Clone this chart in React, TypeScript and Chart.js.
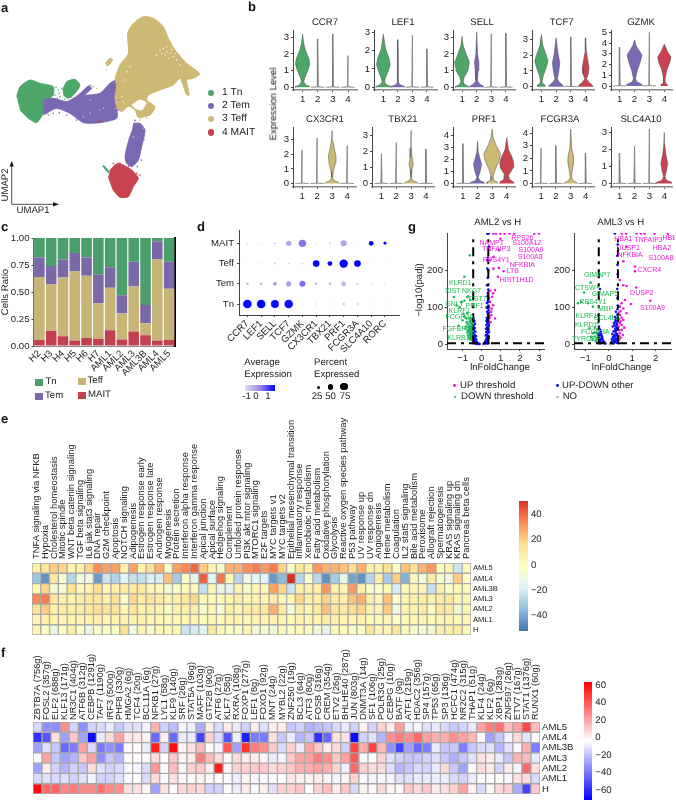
import React, { useEffect, useRef } from "react";
import { Chart, registerables } from "chart.js";

Chart.register(...registerables);
const FONT = '"Liberation Sans", Arial, sans-serif';
Chart.defaults.font.family = FONT;
Chart.defaults.font.size = 9.5;
Chart.defaults.color = "#222";
Chart.defaults.plugins.legend.display = false;
Chart.defaults.plugins.tooltip.enabled = false;

/* ---------- palette ---------- */
const GREEN = "#4CA768";
const PURPLE = "#7B68B5";
const TAN = "#CDB973";
const RED = "#C8434F";
const CLUSTER_COLORS = [GREEN, PURPLE, TAN, RED];

/* ---------- panel a: UMAP outlines and stray cells (UMAP units) ---------- */
const teffOutline = [[345,235],[360,195],[385,160],[383,100],[400,70],[430,50],[460,55],[490,80],[505,115],[525,150],[560,190],[600,222],[580,235],[560,240],[568,285],[560,285],[540,235],[520,255],[480,270],[445,285],[440,300],[465,320],[450,345],[415,352],[405,330],[385,318],[365,335],[350,320],[345,290],[350,260],[345,235]];
const teffIslet = [[316,190],[328,176],[338,178],[330,192],[322,198]];
const teffHole = [[395,315],[420,300],[438,308],[425,330],[405,325]];
const teffCells = [[280,260],[290,265],[270,300],[300,330],[320,195],[320,210],[270,340],[345,325],[430,385],[415,525],[400,410],[310,325],[250,350],[275,258],[420,360],[440,355],[405,360]];
const teffGaps = [[480,150],[490,145],[500,155],[510,160],[495,165],[520,170],[505,175],[470,165],[485,160],[515,150],[530,180],[525,160],[540,195],[500,140],[380,215],[375,240],[390,200],[365,290],[370,305],[455,290]];
const tnOutline = [[50,290],[60,260],[90,240],[120,250],[160,260],[160,285],[145,300],[130,340],[110,368],[85,355],[60,330]];
const tnIslet = [[188,270],[200,245],[225,238],[240,255],[225,280],[205,295],[190,285]];
const tnSliver = [[310,495],[328,515],[325,518],[308,498]];
const tnCells = [[165,285],[175,270],[180,290],[150,300],[140,320],[185,265],[172,295],[160,300],[135,335],[145,345],[168,262],[178,280],[152,310],[195,298]];
const temOutline = [[130,300],[160,295],[200,305],[235,285],[265,258],[275,265],[255,285],[300,280],[330,250],[350,240],[345,290],[350,320],[350,355],[300,368],[250,368],[210,340],[170,325],[130,345]];
const temLower = [[400,370],[420,370],[435,390],[425,440],[415,480],[395,500],[380,490],[375,470],[385,425],[395,395]];
const temCells = [[120,310],[140,340],[130,330],[160,340],[200,345],[230,360],[270,255],[260,275],[240,290],[225,300],[355,300],[350,345],[345,355],[355,330],[405,362],[365,500],[375,505],[412,500],[425,480],[215,290],[190,330],[178,338],[262,262],[432,420]];
const maitOutline = [[330,510],[355,490],[395,510],[415,535],[400,560],[385,590],[360,592],[340,570],[325,530]];
const maitCells = [[345,495],[360,490],[385,500],[410,520],[300,362],[305,365],[380,480],[405,530],[340,490],[420,525],[295,360]];
const umapLegend = ["1 Tn", "2 Tem", "3 Teff", "4 MAIT"];

/* ---------- panel b: violins. A profile is [level, half width]; other clusters hold only a top value ---------- */
const CCR7_1 = [[0,.47],[.05,.47],[.15,.2],[.35,.08],[.55,.13],[.9,.3],[1.1,.38],[1.4,.47],[1.7,.42],[2.2,.2],[2.6,.08],[3.2,0]];
const LEF1_1 = [[0,.5],[.05,.5],[.15,.2],[.3,.08],[.5,.14],[.9,.35],[1.25,.47],[1.6,.38],[2.1,.15],[2.9,0]];
const LEF1_2 = [[0,.47],[.05,.45],[.15,.12],[.3,.03],[1,.03],[1.4,.03],[2.6,0]];
const SELL_1 = [[0,.45],[.05,.45],[.18,.15],[.35,.08],[.6,.15],[1,.4],[1.5,.5],[2,.28],[2.5,.08],[3.05,0]];
const SELL_2 = [[0,.5],[.08,.45],[.2,.2],[.4,.06],[1,.1],[1.5,.15],[2,.06],[3.3,0]];
const TCF7_1 = [[0,.25],[.1,.25],[.2,.1],[.4,.06],[.7,.13],[1,.25],[1.6,.45],[2.1,.3],[2.6,.1],[3.3,0]];
const TCF7_2 = [[0,.5],[.1,.45],[.3,.2],[.5,.08],[.9,.17],[1.5,.25],[2.1,.13],[3.1,0]];
const TCF7_4 = [[0,.5],[.1,.45],[.3,.2],[.5,.06],[.8,.18],[1.2,.23],[1.7,.14],[2.3,.04],[3.1,0]];
const GZMK_2 = [[0,.5],[.15,.5],[.4,.15],[.7,.07],[1.5,.2],[2.2,.38],[2.9,.5],[3.4,.27],[3.8,.1],[4.3,0]];
const GZMK_4 = [[0,.2],[.15,.2],[.3,.05],[.7,.06],[1.5,.17],[2.2,.37],[2.7,.45],[3.2,.22],[3.9,0]];
const CX3CR1_3 = [[0,.5],[.08,.45],[.2,.15],[.4,.03],[.8,.07],[1.4,.21],[1.9,.25],[2.4,.14],[2.9,.05],[3.6,0]];
const TBX21_3 = [[0,.5],[.08,.4],[.2,.1],[.4,.02],[.9,.07],[1.2,.14],[1.6,.07],[2.2,.02],[3.3,0]];
const PRF1_2 = [[0,.5],[.1,.45],[.25,.15],[.5,.05],[1,.18],[1.6,.28],[2.1,.16],[2.6,.05],[3.5,0]];
const PRF1_3 = [[0,.35],[.12,.35],[.3,.08],[.6,.08],[1.2,.22],[2,.52],[2.5,.56],[3.2,.26],[3.8,.07],[4.5,0]];
const PRF1_4 = [[0,.5],[.15,.45],[.35,.18],[.7,.13],[1.3,.44],[1.7,.48],[2.2,.36],[2.8,.12],[3.8,0]];
const FCGR3A_3 = [[0,.5],[.08,.4],[.25,.13],[.5,.04],[1,.09],[1.7,.2],[2.2,.18],[2.8,.06],[4.3,0]];
const SLC4A10_4 = [[0,.55],[.08,.5],[.2,.15],[.4,.05],[.8,.16],[1.2,.23],[1.7,.11],[2.3,.03],[3,0]];

const violinPanels = [
  { gene: "CCR7", top: 30, l: 292.7, r: 356.7, t1: 302.3, t4: 347.7, y0: 87.3, ppu: 16.67, ticks: [0,1,2,3], title: 325, v: [CCR7_1, 2.9, 3.2, 1.9] },
  { gene: "LEF1", top: 30, l: 374, r: 436.7, t1: 383.3, t4: 426.7, y0: 87.3, ppu: 18.3, ticks: [0,1,2,3], title: 403, v: [LEF1_1, LEF1_2, 2.85, 2.1] },
  { gene: "SELL", top: 30, l: 453.3, r: 515, t1: 462.3, t4: 506, y0: 87.3, ppu: 16.67, ticks: [0,1,2,3], title: 482, v: [SELL_1, SELL_2, 3.2, 3.25] },
  { gene: "TCF7", top: 30, l: 531.7, r: 593.3, t1: 541, t4: 585, y0: 86.7, ppu: 15.8, ticks: [0,1,2,3], title: 561.7, v: [TCF7_1, TCF7_2, 3.15, TCF7_4] },
  { gene: "GZMK", top: 30, l: 610.7, r: 671.7, t1: 619.3, t4: 664, y0: 86, ppu: 10.73, ticks: [0,1,2,3,4,5], title: 641, v: [3.6, GZMK_2, 5, GZMK_4] },
  { gene: "CX3CR1", top: 126.7, l: 293.3, r: 356, t1: 302.3, t4: 347.3, y0: 183.3, ppu: 14.67, ticks: [0,1,2,3], title: 325, v: [2.3, 3.1, CX3CR1_3, 2.6] },
  { gene: "TBX21", top: 126.7, l: 372.3, r: 434, t1: 381.7, t4: 426, y0: 183.3, ppu: 16.1, ticks: [0,1,2,3], title: 403, v: [1.85, 2.55, TBX21_3, 2.15] },
  { gene: "PRF1", top: 126.7, l: 452.7, r: 515, t1: 462.7, t4: 506.7, y0: 183.3, ppu: 12.1, ticks: [0,1,2,3,4], title: 484, v: [3.3, PRF1_2, PRF1_3, PRF1_4] },
  { gene: "FCGR3A", top: 126.7, l: 531.7, r: 593.3, t1: 540.7, t4: 585, y0: 183.3, ppu: 12.65, ticks: [0,1,2,3,4], title: 560, v: [2.8, 3, FCGR3A_3, 2.4] },
  { gene: "SLC4A10", top: 126.7, l: 610.7, r: 671.7, t1: 619.3, t4: 664, y0: 183.3, ppu: 17, ticks: [0,1,2,3], title: 641, v: [1.8, 2.2, 3.2, SLC4A10_4] },
];

/* ---------- panel c ---------- */
const ratioSamples = ["H2","H3","H4","H5","H6","H7","AML1","AML2","AML3","AML3B","AML4","AML5"];
const ratioMAIT = [.055,.14,.09,.05,.075,.065,.145,.06,.135,.10,.05,.055];
const ratioTeff = [.585,.43,.545,.64,.575,.33,.395,.24,.415,.11,.75,.475];
const ratioTem = [.18,.17,.165,.17,.17,.265,.19,.17,.23,.17,.17,.25];
const ratioTn = [.18,.26,.2,.14,.18,.34,.27,.53,.22,.62,.03,.22];
const ratioTicks = [0,.25,.5,.75,1];

/* ---------- panel d ---------- */
const dotGenes = ["CCR7","LEF1","SELL","TCF7","GZMK","CX3CR1","TBX21","PRF1","FCGR3A","SLC4A10","RORC"];
const dotCells = ["Tn","Tem","Teff","MAIT"];
const pctTn = [100,100,85,100,3,3,3,8,5,2,2];
const pctTem = [8,8,18,35,50,8,8,30,6,3,2];
const pctTeff = [1,2,4,3,4,60,30,95,60,1,1];
const pctMAIT = [2,2,5,40,75,2,4,50,2,30,12];
const avgTn = [1.5,1.5,1.4,1.4,-.7,-.7,-.7,-.6,-.6,-.7,-.7];
const avgTem = [-.3,-.2,.1,0,.5,-.3,-.3,-.4,-.5,-.7,-.7];
const avgTeff = [-.7,-.7,-.6,-.6,-.6,1.5,1.5,1.5,1.5,-.7,-.7];
const avgMAIT = [-.6,-.6,-.5,-.2,.4,-.7,-.5,-.2,-.7,1.5,1.5];

/* ---------- panel g ---------- */
const aml2Up = [[.62,300],[.75,300],[.98,300],[1.2,300],[1.46,300],[1.7,300],[2.75,300],[3,300],[.98,286],[.9,255],[.45,228],[.62,237],[.62,205],[.9,207],[1.15,198],[.85,183],[.7,147],[.6,138],[.55,129],[.45,115],[.6,106],[.5,88],[.5,79],[.7,70],[.45,145],[.52,96],[.42,72],[.46,60],[.4,100]];
const aml2Other = [[.3,300],[.33,300],[.36,300],[.38,265],[.33,235],[.32,228],[.3,205],[.35,200],[.32,180],[.28,160],[.35,148],[.33,138],[.3,130],[.36,125],[.32,118],[.28,112],[.35,105],[.31,98],[.37,92],[.29,88],[.33,82],[.36,76],[.27,72],[.31,68],[.34,62],[.29,58],[.37,55],[.25,52],[.32,48],[.28,44],[.35,40],[.3,36],[.24,33],[.33,30],[.27,26],[.36,22],[.3,20],[.26,16],[.34,14],[.22,11],[.29,9],[.2,7],[.32,6],[.25,4],[.35,3],[.18,4],[.28,2],[.38,115],[.26,100],[.38,85],[.25,64],[.38,50],[.23,42],[.39,34],[.22,24],[.38,18],[.16,3],[.12,2],[-.42,70],[-.38,62],[-.35,55],[-.42,50],[-.36,44],[-.4,38],[-.33,34],[-.44,30],[-.37,26],[-.3,22],[-.41,20],[-.35,16],[-.28,13],[-.4,11],[-.33,8],[-.25,7],[-.38,6],[-.3,4],[-.22,3],[-.36,3],[-.18,2],[-.27,1],[-.12,1]];
const aml2Down = [[-.47,60],[-.5,55],[-.55,50],[-.47,47],[-.52,42],[-.6,40],[-.48,37],[-.65,35],[-.55,33],[-.47,30],[-.5,26],[-.6,26],[-.7,24],[-.46,22],[-.55,20],[-.5,15],[-.63,50],[-.72,55],[-.78,60],[-.68,45],[-.85,42],[-.8,70],[-.9,75],[-.95,82],[-1,65],[-.75,85],[-.65,70],[-.56,65],[-1.2,50],[-1.15,100],[-.6,120],[-.45,110],[-.7,130],[-.62,241],[-.9,183],[-1.45,128],[-1.05,115],[-1.3,105],[-.75,128],[-.9,118],[-.58,58],[-.48,52],[-.7,38],[-.75,32],[-.62,30],[-.53,36],[-.57,24],[-.66,18],[-.49,44],[-.56,44],[-.8,48],[-.62,62],[-.52,70],[-.47,18],[-.53,12],[-.6,14]];
const aml2No = [[-.2,.5],[.1,.5],[.2,.5],[-.1,.3],[.05,.2]];
const aml3Up = [[.55,300],[.73,300],[1.19,300],[1.37,300],[1.53,300],[1.96,300],[2.52,300],[.76,264],[.62,225],[1.12,211],[1.12,198],[.47,174],[.62,160],[.76,158],[1.17,154],[1.77,118],[.69,120],[.55,111],[.94,109],[.47,102],[.62,97],[.76,84],[.47,79],[.62,66],[.47,57],[.55,39],[.47,30],[.5,90],[.55,72],[.42,48],[.6,25],[.44,68],[.5,62],[.44,38],[.5,18],[.44,22],[.66,45],[.43,86],[.45,12],[.55,52]];
const aml3Other = [[.26,300],[.38,270],[.36,240],[.37,215],[.38,190],[.36,150],[.37,125],[.38,105],[.37,95],[.3,88],[.36,80],[.26,74],[.33,70],[.37,65],[.29,60],[.35,56],[.24,52],[.3,48],[.36,45],[.27,42],[.33,38],[.2,35],[.3,32],[.36,28],[.25,26],[.32,24],[.18,20],[.28,18],[.35,15],[.22,13],[.3,10],[.15,8],[.26,6],[.34,4],[.2,3],[.28,66],[.22,58],[.17,48],[.26,36],[.15,28],[.22,22],[.13,14],[.34,52],[.32,42],[.1,5],[.24,10],[-.38,150],[-.42,48],[-.38,40],[-.34,34],[-.42,30],[-.36,26],[-.3,22],[-.41,18],[-.33,15],[-.26,12],[-.4,9],[-.3,6],[-.22,4],[-.36,3],[-.15,2],[-.4,24],[-.28,18],[-.36,12],[-.24,8],[-.19,6],[-.33,28]];
const aml3Down = [[-.78,167],[-1.06,140],[-.46,156],[-1.32,111],[-1.18,115],[-.68,102],[-.89,111],[-.46,79],[-.82,43],[-.68,30],[-.6,21],[-.53,12],[-.5,40],[-.6,45],[-.47,25],[-.55,8],[-.46,58],[-.7,12],[-.52,30],[-.48,16],[-.6,32],[-.75,20]];
const aml3No = [[-.15,.5],[.1,.5],[.2,.5],[.05,.3]];
const aml2UpNames: [string, number, number][] = [["RPS26",2.13,289],["NAMPT",.53,275],["S100A12",2.36,273],["TNFAIP3",.76,259],["S100A9",2.58,255],["S100A8",2.54,237],["RPS4Y1",.76,228],["NFKBIA",2.13,216],["LTB",1.63,198],["HIST1H1D",1.83,173]];
const aml2DownNames: [string, number, number][] = [["KLRD1",-1.12,167],["XIST",-1.51,145],["NKG7",-.53,145],["CST7",-.21,122],["GNLY",-1.42,108],["PRF1",-.36,104],["KLRF1",-1.15,90],["FCGR3A",-1.15,74],["FGFBP2",-1.33,40],["KLRB1",-1.21,18]];
const aml3UpNames: [string, number, number][] = [["HBA1",.62,284],["TNFAIP3",1.7,282],["HBB",2.6,289],["DUSP1",.83,262],["HBA2",2.27,262],["NFKBIA",.91,243],["S100A8",2.23,235],["CXCR4",1.73,200],["DUSP2",1.41,140],["S100A9",1.87,97]];
const aml3DownNames: [string, number, number][] = [["GIMAP7",-.5,187],["CTSW",-1.01,153],["GIMAP5",-.17,136],["RPS4Y1",-.68,115],["MBP",-.14,95],["KLRF1",-.96,76],["CCL4L2",-.1,70],["KLRD1",-.96,52],["FCGR3A",-.58,33],["TYROBP",-.96,14]];

/* ---------- panel e ---------- */
const hallmarkRows = ["AML5","AML4","AML3B","AML3","AML2","AML1","H"];
const hallmarkNames = ["TNFA signaling via NFKB","Hypoxia","Cholesterol homeostasis","Mitotic spindle","WNT beta catenin signaling","TGF beta signaling","IL6 jak stat3 signaling","DNA repair","G2M checkpoint","Apoptosis","NOTCH signaling","Adipogenesis","Estrogen response early","Estrogen response late","Androgen response","Myogenesis","Protein secretion","Interferon alpha response","Interferon gamma response","Apical junction","Apical surface","Hedgehog signaling","Complement","Unfolded protein response","PI3K akt mtor signaling","MTORC1 signaling","E2F targets","MYC targets v1","MYC targets v2","Epithelial mesenchymal transition","Inflammatory response","Xenobiotic metabolism","Fatty acid metabolism","Oxidative phosphorylation","Glycolysis","Reactive oxygen species pathway","P53 pathway","UV response up","UV response dn","Angiogenesis","Heme metabolism","Coagulation","IL2 stat5 signaling","Bile acid metabolism","Peroxisome","Allograft rejection","Spermatogenesis","KRAS signaling up","KRAS signaling dn","Pancreas beta cells"];
const hmAML5 = [8,12,20,18,5,8,18,32,28,28,6,28,6,15,25,-3,28,33,38,20,6,-3,25,25,32,35,30,35,18,-3,12,8,30,25,25,22,15,25,8,7,15,-2,22,15,25,30,2,5,-20,2];
const hmAML4 = [-30,-42,12,-5,-25,-6,-8,-40,-20,-25,-15,-22,-22,-17,-18,22,-28,-2,-12,40,-15,36,3,-25,-10,-15,-15,-40,-33,50,-25,-3,-24,-42,-28,-12,-38,-42,-25,8,-28,20,-35,4,-8,10,-3,-8,20,-1];
const hmAML3B = [4,18,-5,-5,15,3,6,16,4,8,10,12,10,4,3,-5,-3,3,3,-22,3,-12,-15,6,-4,4,3,28,18,-20,8,7,8,30,7,4,30,8,-2,-2,2,-18,4,4,4,-22,8,-2,3,3];
const hmAML3 = [33,35,11,7,5,10,12,12,8,15,-2,18,10,14,10,6,8,12,18,3,3,3,4,10,5,6,5,7,3,3,18,8,8,18,10,8,22,25,7,4,22,-2,6,7,10,6,10,12,4,4];
const hmAML2 = [14,20,8,10,8,10,12,15,14,15,4,12,6,8,6,-2,6,8,8,-3,4,-5,8,4,10,10,12,25,10,-8,10,6,10,22,12,10,16,18,5,5,20,-8,6,5,10,-2,12,10,-6,4];
const hmAML1 = [5,8,6,5,6,6,7,7,5,7,5,7,6,6,4,3,4,5,6,3,4,3,5,6,4,6,6,6,6,3,5,5,5,10,7,5,6,6,3,3,4,-1,3,4,5,3,5,5,3,4];
const hmH = [6,-1,-10,0,8,-2,-10,-3,-1,-1,15,-8,5,-2,4,2,3,-20,-18,-14,12,3,0,-2,4,-6,-4,-8,3,-3,3,2,-8,-12,2,2,-2,-1,14,4,4,12,3,-4,-6,-6,8,8,10,3];
const hallmarkValues = [hmAML5,hmAML4,hmAML3B,hmAML3,hmAML2,hmAML1,hmH];
const hallmarkStops = ["#4575B4","#91BFDB","#E0F3F8","#FFFFBF","#FEE090","#FC8D59","#D73027"];

/* ---------- panel f ---------- */
const tfRows = ["AML5","AML4","AML3B","AML3","AML2","AML1","H"];
const tfNames = ["ZBTB7A (756g)","FOSL2 (357g)","ELF2 (688g)","KLF13 (171g)","NR3C1 (404g)","ATF6B (312g)","CEBPB (1291g)","TAF7 (1190g)","IRF3 (500g)","PHF8 (330g)","HMGA2 (6g)","TCF4 (20g)","BCL11A (6g)","NFKB1 (27g)","LYL1 (58g)","KLF9 (140g)","SRF (26g)","STAT5A (96g)","MAFF (103g)","GTF2B (90g)","ATF6 (27g)","KLF7 (58g)","RXRA (108g)","FOXP1 (277g)","LEF1 (8g)","FOXO1 (92g)","MNT (24g)","MYBL2 (22g)","ZNF250 (19g)","BCL3 (64g)","ATF3 (80g)","FOSB (316g)","CREM (354g)","ETV2 (26g)","BHLHE40 (287g)","JUN (803g)","DNMT3A (14g)","SF1 (106g)","POLR3G (25g)","CEBPG (10g)","BATF (9g)","ATF1 (219g)","HDAC2 (356g)","SP4 (157g)","TP53 (65g)","SP3 (136g)","HCFC1 (474g)","NR2C2 (315g)","THAP1 (51g)","KLF4 (24g)","KLF2 (6g)","XBP1 (283g)","ZNF597 (26g)","ETV7 (167g)","STAT1 (1376g)","RUNX1 (60g)"];
const tfAML5 = [-10,-30,-30,30,-12,-30,-12,-10,-5,-15,-8,-8,-3,20,-12,-18,-3,-4,-22,5,-10,5,-5,-12,4,-8,5,5,-15,-12,-20,-18,-15,-10,-5,-12,3,-12,12,5,25,-3,-2,-8,-6,-10,-15,-12,-6,25,35,38,18,25,50,18];
const tfAML4 = [-55,-45,8,-25,15,-25,-65,-5,10,25,6,6,3,-40,5,-40,-5,-6,-50,12,-10,-45,-4,-60,-35,-35,8,-15,-5,-20,-15,-55,-40,8,8,-65,-12,-8,-20,30,35,30,40,25,22,22,30,25,20,1,-25,-15,-3,10,-7,1];
const tfAML3B = [-25,-8,-15,-40,-35,25,-10,-35,-30,-35,1,1,-5,60,-12,65,3,8,18,1,-3,45,-25,55,35,30,15,-10,12,-5,25,15,5,10,-12,50,22,50,18,-30,-50,-25,-40,-35,-5,-15,-15,-35,-15,-10,-8,-20,-8,-2,22,-35];
const tfAML3 = [-1,25,-15,-25,-20,15,25,-30,-15,-20,1,1,1,10,0,15,3,5,35,18,10,2,10,5,5,2,-5,-3,15,25,25,35,30,15,25,45,1,0,12,-8,-12,-15,-15,-12,-8,-15,-22,-15,-8,8,5,-6,-15,20,18,-6];
const tfAML2 = [-25,5,-12,-20,-12,-15,10,-8,-12,-10,1,-2,-10,28,-1,18,3,12,15,5,60,3,12,12,15,15,10,12,15,22,22,25,22,12,-4,40,12,10,10,-8,-20,-15,-10,-12,-6,10,-15,-25,1,10,5,-12,5,-2,40,8];
const tfAML1 = [-10,-8,-10,-8,-12,-8,-3,-12,-12,-8,-1,1,-10,10,-1,8,2,2,4,2,1,-1,-5,3,-3,-2,-1,0,6,4,4,5,3,-3,3,12,-2,-3,-2,-3,-8,-8,-5,-6,-5,-5,-10,-12,-5,2,0,1,-2,8,10,-10];
const tfH = [65,40,42,32,35,32,32,38,32,30,8,8,3,-25,8,1,10,12,10,-12,-12,0,-5,6,-2,4,-8,12,12,15,0,12,18,5,15,-10,3,1,10,3,1,15,10,15,5,8,12,25,3,-10,2,10,12,-22,-50,15];
const tfValues = [tfAML5,tfAML4,tfAML3B,tfAML3,tfAML2,tfAML1,tfH];

/* ---------- helpers ---------- */
type Frame = { l: number; t: number; r: number; b: number; L: number; T: number; R: number; B: number };

const hex = (c: string) => [1, 3, 5].map((i) => parseInt(c.slice(i, i + 2), 16));
function ramp(stops: string[], t: number) {
  const u = Math.max(0, Math.min(1, t)) * (stops.length - 1);
  const i = Math.min(stops.length - 2, Math.floor(u));
  const a = hex(stops[i]);
  const b = hex(stops[i + 1]);
  const f = u - i;
  return `rgb(${a.map((v, k) => Math.round(v + (b[k] - v) * f)).join(",")})`;
}
const hallmarkColor = (v: number) => ramp(hallmarkStops, (v + 48) / 96);
const tfColor = (v: number) => ramp(["#0000FF", "#FFFFFF", "#FF0000"], (v + 68) / 136);
const dotColor = (v: number) => ramp(["#E2DCF2", "#9C88E4", "#0000FF"], (v + 1) / 2.5);

const pairs = (list: number[][]) => list.map(([x, y]) => ({ x, y }));

function axis(position: string, min: number, max: number, ticks: number[], label: (v: number) => string, extra: any = {}) {
  return {
    type: "linear",
    position,
    min,
    max,
    afterBuildTicks: (s: any) => {
      s.ticks = ticks.map((value) => ({ value }));
    },
    grid: { drawOnChartArea: false, tickLength: 2, color: "#444", ...(extra.grid || {}) },
    border: { color: "#444", width: 1, ...(extra.border || {}) },
    ticks: { autoSkip: false, padding: 2, color: "#222", font: { size: 9.6 }, callback: label, ...(extra.ticks || {}) },
  };
}

function fitted(f: Frame, cfg: any) {
  const used: any = {};
  const scales = cfg.options.scales;
  for (const k of Object.keys(scales)) {
    const s = scales[k];
    if (s.display === false || !s.position) continue;
    const p = s.position;
    used[p] = true;
    s.afterFit = (sc: any) => {
      if (p === "left") sc.width = f.L;
      if (p === "right") sc.width = f.R;
      if (p === "top") sc.height = f.T;
      if (p === "bottom") sc.height = f.B;
      sc.paddingLeft = sc.paddingRight = sc.paddingTop = sc.paddingBottom = 0;
    };
  }
  cfg.options.animation = false;
  cfg.options.responsive = false;
  cfg.options.maintainAspectRatio = false;
  cfg.options.devicePixelRatio = 1;
  cfg.options.layout = {
    autoPadding: false,
    padding: {
      left: used.left ? 0 : f.L,
      right: used.right ? 0 : f.R,
      top: used.top ? 0 : f.T,
      bottom: used.bottom ? 0 : f.B,
    },
  };
  return cfg;
}

function Panel({ frame, build }: { frame: Frame; build: () => any }) {
  const ref = useRef<HTMLCanvasElement>(null);
  const w = Math.round(frame.r - frame.l + frame.L + frame.R);
  const h = Math.round(frame.b - frame.t + frame.T + frame.B);
  useEffect(() => {
    const chart = new Chart(ref.current as HTMLCanvasElement, fitted(frame, build()));
    return () => chart.destroy();
  }, []);
  return (
    <canvas
      ref={ref}
      width={w}
      height={h}
      style={{ position: "absolute", left: Math.round(frame.l - frame.L), top: Math.round(frame.t - frame.T), width: w, height: h, display: "block" }}
    />
  );
}

function Txt({ x, y, s, size = 9.6, anchor = "left", rot = 0, color = "#222", bold = false }: any) {
  const tx = anchor === "center" ? "-50%" : anchor === "right" ? "-100%" : "0";
  return (
    <div
      style={{
        position: "absolute",
        left: x,
        top: y,
        fontSize: size,
        lineHeight: 1,
        color,
        fontWeight: bold ? 700 : 400,
        whiteSpace: "nowrap",
        textRendering: "geometricPrecision",
        transform: `translate(${tx},-50%)${rot ? ` rotate(${rot}deg)` : ""}`,
      }}
    >
      {s}
    </div>
  );
}

const Box = ({ x, y, w, h, bg, round = false }: any) => (
  <div style={{ position: "absolute", left: x, top: y, width: w, height: h, background: bg, borderRadius: round ? "50%" : 0 }} />
);

const Dot = ({ x, y, r, bg }: any) => <Box x={x - r} y={y - r} w={2 * r} h={2 * r} bg={bg} round />;

/* ---------- panel builders ---------- */
const poly = (list: number[][], color: string) => ({
  data: pairs(list),
  showLine: true,
  fill: "shape",
  backgroundColor: color,
  borderColor: color,
  borderWidth: 1,
  pointRadius: 0,
  tension: 0.2,
});
const specks = (list: number[][], color: string, r = 1.1) => ({
  data: pairs(list),
  backgroundColor: color,
  borderWidth: 0,
  pointRadius: r,
});

function buildUmap() {
  return {
    type: "scatter",
    data: {
      datasets: [
        specks(temCells, PURPLE, 0.8),
        specks(maitCells, RED, 0.8),
        specks(teffGaps, "#FFFFFF", 0.7),
        poly(teffHole, "#FFFFFF"),
        specks(teffCells, TAN, 0.8),
        poly(teffIslet, TAN),
        poly(teffOutline, TAN),
        poly(temOutline, PURPLE),
        poly(temLower, PURPLE),
        specks(tnCells, GREEN, 0.8),
        poly(tnIslet, GREEN),
        poly(tnSliver, GREEN),
        poly(tnOutline, GREEN),
        poly(maitOutline, RED),
      ],
    },
    options: {
      scales: {
        x: { type: "linear", display: false, min: 0, max: 750 },
        y: { type: "linear", display: false, min: 0, max: 600, reverse: true },
      },
    },
  };
}

function violinOutline(cluster: number, shape: any) {
  const prof = typeof shape === "number" ? [[0, .45], [.03, .04], [shape, 0]] : shape;
  const right = prof.map(([y, w]: number[]) => ({ x: cluster + w, y }));
  const left = prof.slice().reverse().map(([y, w]: number[]) => ({ x: cluster - w, y }));
  return [...right, ...left];
}

function violinFrame(p: any): Frame {
  return { l: p.l, r: p.r, t: p.top, b: p.top + 60, L: 14, T: 2, R: 2, B: 16 };
}

function buildViolin(p: any) {
  const sp = (p.t4 - p.t1) / 3;
  const b = p.top + 60;
  return () => ({
    type: "scatter",
    data: {
      datasets: p.v.map((shape: any, i: number) => ({
        data: violinOutline(i + 1, shape),
        showLine: true,
        fill: "shape",
        backgroundColor: typeof shape === "number" ? "#8a8a8a" : CLUSTER_COLORS[i],
        borderColor: typeof shape === "number" ? "#7c7c7c" : "#4a4a4a",
        borderWidth: typeof shape === "number" ? 0.8 : 0.5,
        pointRadius: 0,
      })),
    },
    options: {
      scales: {
        x: axis("bottom", 1 - (p.t1 - p.l) / sp, 4 + (p.r - p.t4) / sp, [1, 2, 3, 4], (v) => String(v), {
          border: { color: "#888", width: 1.4 },
          grid: { tickLength: 2, color: "#555" },
        }),
        y: axis("left", -(b - p.y0) / p.ppu, (p.y0 - p.top) / p.ppu, p.ticks, (v) => String(v)),
      },
    },
  });
}

function buildRatio() {
  const bar = (data: number[], color: string) => ({ data, backgroundColor: color, barPercentage: 0.9, categoryPercentage: 1 });
  return {
    type: "bar",
    data: {
      labels: ratioSamples,
      datasets: [bar(ratioMAIT, "#C2404F"), bar(ratioTeff, "#C6B576"), bar(ratioTem, "#7A68A8"), bar(ratioTn, "#4C9F6B")],
    },
    options: {
      scales: {
        x: {
          position: "bottom",
          stacked: true,
          grid: { display: false, drawTicks: false },
          border: { color: "#888" },
          ticks: { autoSkip: false, minRotation: 45, maxRotation: 45, padding: 2, color: "#222", font: { size: 9.6 } },
        },
        y: {
          ...axis("left", 0, 1, ratioTicks, (v) => v.toFixed(2), { border: { color: "#666", width: 1, dash: [9, 1.5] } }),
          stacked: true,
        },
        y1: {
          type: "linear",
          position: "right",
          min: 0,
          max: 1,
          grid: { drawOnChartArea: false, drawTicks: false },
          border: { color: "#000", width: 2, dash: [8, 1.5] },
          ticks: { display: false },
        },
      },
    },
  };
}

function buildDots() {
  const rows = [[pctTn, avgTn], [pctTem, avgTem], [pctTeff, avgTeff], [pctMAIT, avgMAIT]];
  const pts: any[] = [];
  const colors: string[] = [];
  rows.forEach(([pct, avg], row) =>
    pct.forEach((p, col) => {
      pts.push({ x: col, y: row, r: 0.43 * Math.sqrt(p) });
      colors.push(dotColor(avg[col]));
    })
  );
  return {
    type: "bubble",
    data: { datasets: [{ data: pts, backgroundColor: colors, borderWidth: 0 }] },
    options: {
      scales: {
        x: axis("bottom", -0.61, 11.02, dotGenes.map((_, i) => i), (v) => dotGenes[v], {
          ticks: { minRotation: 45, maxRotation: 45, padding: 1 },
        }),
        y: axis("left", -0.54, 3.66, [0, 1, 2, 3], (v) => dotCells[v], { ticks: { padding: 3 } }),
      },
    },
  };
}

const geneNamesPlugin = {
  id: "geneNames",
  afterDatasetsDraw(chart: any, _a: any, opts: any) {
    const { ctx, scales } = chart;
    ctx.save();
    ctx.font = `7px ${FONT}`;
    ctx.textAlign = "center";
    ctx.textBaseline = "middle";
    for (const [list, color] of opts.groups) {
      ctx.fillStyle = color;
      for (const [name, x, y] of list) ctx.fillText(name, scales.x.getPixelForValue(x), scales.y.getPixelForValue(y));
    }
    ctx.restore();
  },
};

function buildVolcano(up: any, other: any, down: any, no: any, upN: any, downN: any, xmin: number, xmax: number, xticks: number[], vl: number, vr: number) {
  const rule = (list: number[][]) => ({
    data: pairs(list),
    showLine: true,
    borderColor: "#000",
    borderWidth: 2,
    borderDash: [9, 5, 3, 5],
    pointRadius: 0,
  });
  return () => ({
    type: "scatter",
    plugins: [geneNamesPlugin],
    data: {
      datasets: [
        rule([[vl, 0], [vl, 295]]),
        rule([[vr, 0], [vr, 295]]),
        rule([[xmin, 3], [xmax, 3]]),
        specks(up, "#F018D8", 1.3),
        specks(other, "#1010F0", 1.3),
        specks(down, "#1DBB55", 1.3),
        specks(no, "#BBBBBB", 1.3),
      ],
    },
    options: {
      plugins: { geneNames: { groups: [[upN, "#F018D8"], [downN, "#1DBB55"]] } },
      scales: {
        x: axis("bottom", xmin, xmax, xticks, (v) => (v < 0 ? "\u2212" + -v : String(v))),
        y: axis("left", -12.8, 301.6, [0, 100, 200], (v) => String(v)),
      },
    },
  });
}

function buildHeat(names: string[], rows: string[], values: number[][], color: (v: number) => string, rowFont: number, nameFont: number, namePad: number) {
  return () => ({
    type: "bar",
    data: {
      labels: names,
      datasets: rows
        .map((r, i) => ({
          label: r,
          data: values[i].map(() => 1),
          backgroundColor: values[i].map(color),
          borderColor: "#A9A9A9",
          borderWidth: 1,
          borderSkipped: false,
          barPercentage: 1,
          categoryPercentage: 1,
        }))
        .reverse(),
    },
    options: {
      scales: {
        x: {
          position: "top",
          stacked: true,
          grid: { display: false, drawTicks: false },
          border: { display: false },
          ticks: { autoSkip: false, minRotation: 90, maxRotation: 90, padding: namePad, labelOffset: nameFont * 1.2, color: "#222", font: { size: nameFont } },
        },
        y: {
          type: "linear",
          position: "right",
          stacked: true,
          min: 0,
          max: rows.length,
          afterBuildTicks: (s: any) => {
            s.ticks = rows.map((_, i) => ({ value: i + 0.5 }));
          },
          grid: { display: false, drawTicks: false },
          border: { display: false },
          ticks: { autoSkip: false, padding: 2, color: "#222", font: { size: rowFont }, callback: (v: number) => rows[rows.length - 1 - Math.floor(v)] },
        },
      },
    },
  });
}

const fUMAP: Frame = { l: 0, t: 0, r: 250, b: 200, L: 0, T: 0, R: 0, B: 0 };
const fRatio: Frame = { l: 33.5, t: 238, r: 174.5, b: 346, L: 33.5, T: 3, R: 3, B: 38 };
const fDots: Frame = { l: 239, t: 230, r: 399, b: 315, L: 30, T: 2, R: 6, B: 48 };
const fV2: Frame = { l: 447, t: 233, r: 544, b: 349, L: 22, T: 2, R: 4, B: 14 };
const fV3: Frame = { l: 574, t: 233, r: 671, b: 349, L: 22, T: 2, R: 4, B: 14 };
const fHall: Frame = { l: 31.5, t: 562.5, r: 470.5, b: 634, L: 8, T: 165, R: 32, B: 2 };
const fTF: Frame = { l: 32.5, t: 722, r: 539.5, b: 794, L: 8, T: 90, R: 40, B: 2 };

export default function App() {
  useEffect(() => {
    document.body.style.margin = "0";
    document.body.style.background = "#fff";
  }, []);
  return (
    <div style={{ position: "absolute", left: 0, top: 0, width: 676, height: 801, overflow: "hidden", background: "#fff", fontFamily: FONT }}>
      {/* a */}
      <Panel frame={fUMAP} build={buildUmap} />
      {umapLegend.map((s, i) => (
        <React.Fragment key={s}>
          <Dot x={211} y={92.7 + i * 13.3} r={3.2} bg={CLUSTER_COLORS[i]} />
          <Txt x={222} y={92.7 + i * 13.3} s={s} size={10.3} />
        </React.Fragment>
      ))}
      <svg width={70} height={60} style={{ position: "absolute", left: 0, top: 160 }}>
        <path d="M11.7 5 V44.3 H56" fill="none" stroke="#222" strokeWidth={0.8} />
        <path d="M11.7 1 L9.6 6.5 H13.8 Z M59 44.3 L53 42.2 V46.4 Z" fill="#111" />
      </svg>
      <Txt x={5.5} y={185} s="UMAP2" anchor="center" rot={-90} />
      <Txt x={33} y={210.5} s="UMAP1" anchor="center" />

      {/* b */}
      {violinPanels.map((p) => (
        <React.Fragment key={p.gene}>
          <Panel frame={violinFrame(p)} build={buildViolin(p)} />
          <Txt x={p.title} y={p.top - 7} s={p.gene} anchor="center" />
        </React.Fragment>
      ))}
      <Txt x={274} y={104} s="Expression Level" anchor="center" rot={-90} />

      {/* c */}
      <Panel frame={fRatio} build={buildRatio} />
      <Txt x={6} y={292} s="Cells Ratio" anchor="center" rot={-90} />
      <Box x={35} y={378.5} w={7.5} h={7.5} bg="#4C9F6B" />
      <Txt x={45.5} y={382} s="Tn" />
      <Box x={78} y={377.5} w={8} h={7.5} bg="#C6B576" />
      <Txt x={87.5} y={381} s="Teff" />
      <Box x={35} y={392.5} w={7.5} h={7.5} bg="#7A68A8" />
      <Txt x={45} y={396} s="Tem" />
      <Box x={78} y={391.5} w={8} h={7.5} bg="#C2404F" />
      <Txt x={88} y={395} s="MAIT" />

      {/* d */}
      <Panel frame={fDots} build={buildDots} />
      <Txt x={244.3} y={362.7} s="Average" />
      <Txt x={244.3} y={374.5} s="Expression" />
      <Txt x={314} y={362.7} s="Percent" />
      <Txt x={314} y={374.5} s="Expressed" />
      <div style={{ position: "absolute", left: 245, top: 385, width: 29.5, height: 5.5, background: "linear-gradient(to right,#E2DCF2,#9C88E4,#0000FF)" }} />
      <Txt x={246.5} y={397} s="-1" anchor="center" />
      <Txt x={256} y={397} s="0" anchor="center" />
      <Txt x={268} y={397} s="1" anchor="center" />
      <Dot x={318.3} y={387} r={1.5} bg="#000" />
      <Dot x={330.7} y={387} r={2.7} bg="#000" />
      <Dot x={344} y={386.5} r={3.7} bg="#000" />
      <Txt x={317} y={397} s="25" anchor="center" />
      <Txt x={330.5} y={397} s="50" anchor="center" />
      <Txt x={345} y={397} s="75" anchor="center" />

      {/* g */}
      <Panel frame={fV2} build={buildVolcano(aml2Up, aml2Other, aml2Down, aml2No, aml2UpNames, aml2DownNames, -1.81, 3.26, [-1, 0, 1, 2, 3], -0.44, 0.35)} />
      <Panel frame={fV3} build={buildVolcano(aml3Up, aml3Other, aml3Down, aml3No, aml3UpNames, aml3DownNames, -1.49, 2.66, [-1, 0, 1, 2], -0.43, 0.39)} />
      <Txt x={497.7} y={223} s="AML2 vs H" anchor="center" />
      <Txt x={620.7} y={223} s="AML3 vs H" anchor="center" />
      <Txt x={500} y={368} s="lnFoldChange" anchor="center" />
      <Txt x={621.7} y={368} s="lnFoldChange" anchor="center" />
      <Txt x={419.5} y={290} s={"\u2212log10(padj)"} anchor="center" rot={-90} />
      <Dot x={454.3} y={385.7} r={1.4} bg="#F018D8" />
      <Txt x={460} y={385.5} s="UP threshold" />
      <Dot x={557.7} y={385.7} r={1.4} bg="#1010F0" />
      <Txt x={562} y={385.5} s="UP-DOWN other" />
      <Dot x={455} y={397} r={1.4} bg="#1DBB55" />
      <Txt x={461} y={397} s="DOWN threshold" />
      <Dot x={557.7} y={397} r={1.4} bg="#BBBBBB" />
      <Txt x={562.7} y={397} s="NO" />

      {/* e */}
      <Panel frame={fHall} build={buildHeat(hallmarkNames, hallmarkRows, hallmarkValues, hallmarkColor, 7.6, 9.4, 4)} />
      <div style={{ position: "absolute", left: 519.3, top: 501, width: 8.5, height: 130, background: `linear-gradient(to bottom,${hallmarkStops.slice().reverse().join(",")})` }} />
      {[40, 20, 0, -20, -40].map((v, i) => (
        <Txt key={v} x={531} y={515 + i * 25.25} s={v < 0 ? "\u2212" + -v : String(v)} />
      ))}

      {/* f */}
      <Panel frame={fTF} build={buildHeat(tfNames, tfRows, tfValues, tfColor, 9.6, 9.3, 2)} />
      <div style={{ position: "absolute", left: 584.3, top: 681.7, width: 7.4, height: 118.3, background: "linear-gradient(to bottom,#FF0000,#FFFFFF,#0000FF)" }} />
      {[60, 40, 20, 0, -20, -40, -60].map((v, i) => (
        <Txt key={v} x={595.3} y={685.7 + i * 17.5} s={v < 0 ? "\u2212" + -v : String(v)} />
      ))}

      {/* panel letters */}
      <Txt x={1} y={7} s="a" size={13} bold color="#111" />
      <Txt x={248} y={6} s="b" size={13} bold color="#111" />
      <Txt x={1} y={226} s="c" size={13} bold color="#111" />
      <Txt x={197} y={226} s="d" size={13} bold color="#111" />
      <Txt x={408} y={226} s="g" size={13} bold color="#111" />
      <Txt x={1} y={418} s="e" size={13} bold color="#111" />
      <Txt x={1} y={652} s="f" size={13} bold color="#111" />
    </div>
  );
}
